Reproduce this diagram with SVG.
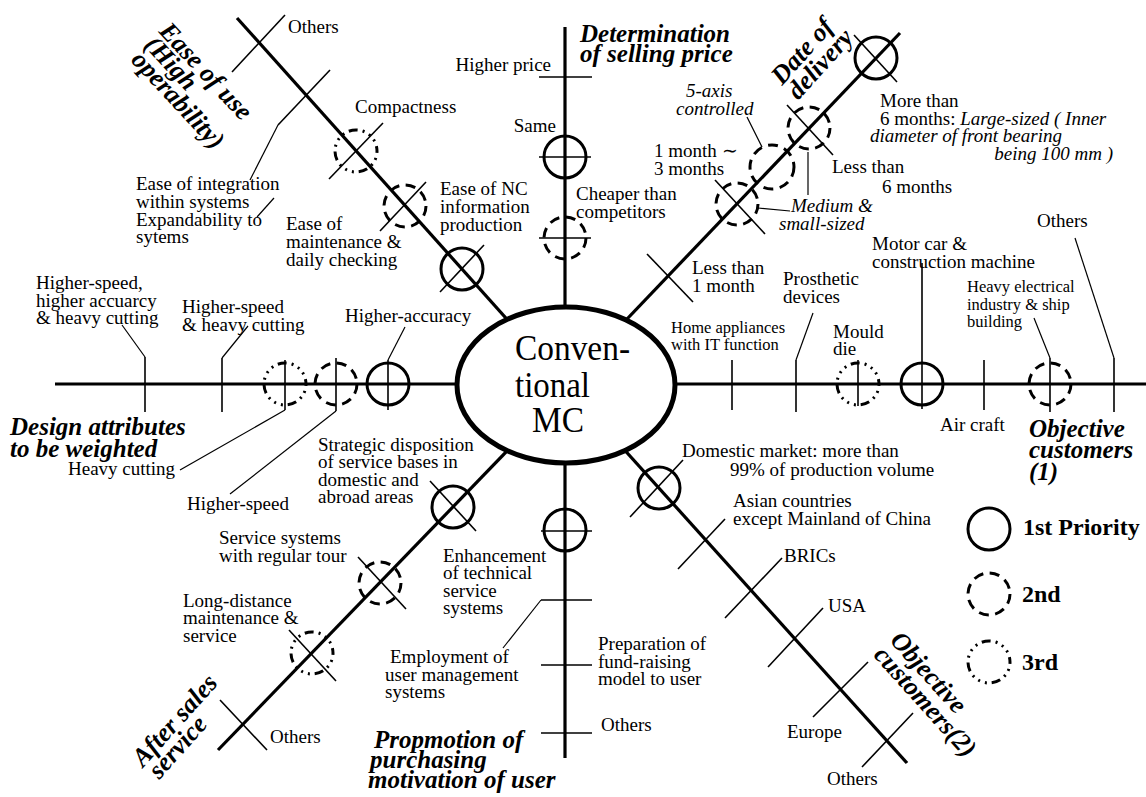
<svg xmlns="http://www.w3.org/2000/svg" width="1146" height="797" viewBox="0 0 1146 797">
<style>
text{font-family:"Liberation Serif","Times New Roman",serif;fill:#000}
.t{font-size:19px}
.s{font-size:16.5px}
.i{font-style:italic}
.c{font-size:25px;font-weight:bold;font-style:italic}
.r{font-size:26px;font-weight:bold;font-style:italic}
.lg{font-size:24px;font-weight:bold}
.ax{stroke:#000;stroke-width:3.2;fill:none}
.tk{stroke:#000;stroke-width:1.6;fill:none}
.ld{stroke:#000;stroke-width:1.2;fill:none}
.p1{stroke:#000;stroke-width:3;fill:none}
.p2{stroke:#000;stroke-width:3;fill:none;stroke-dasharray:10 6.5}
.p3{stroke:#000;stroke-width:3;fill:none;stroke-dasharray:2 5 2 5 2 5 9 5}
</style>
<rect width="1146" height="797" fill="#fff"/>
<g id="connectors">
<line class="ax" x1="237" y1="18" x2="565" y2="384"/>
<line class="ax" x1="565" y1="27" x2="565" y2="384"/>
<line class="ax" x1="900" y1="33" x2="565" y2="384"/>
<line class="ax" x1="1146" y1="384" x2="565" y2="384"/>
<line class="ax" x1="55" y1="384" x2="565" y2="384"/>
<line class="ax" x1="218" y1="750" x2="565" y2="391"/>
<line class="ax" x1="565" y1="758" x2="565" y2="384"/>
<line class="ax" x1="907" y1="763" x2="565" y2="384"/>
</g>
<g id="center-node">
<ellipse cx="566" cy="385" rx="109" ry="78" fill="#fff" stroke="#000" stroke-width="5"/>
<text x="515" y="360" font-size="36" textLength="115" lengthAdjust="spacingAndGlyphs">Conven-</text>
<text x="515" y="397" font-size="36" textLength="75" lengthAdjust="spacingAndGlyphs">tional</text>
<text x="532" y="432" font-size="36" textLength="52" lengthAdjust="spacingAndGlyphs">MC</text>
</g>
<g id="ease-of-use">
<line class="tk" x1="232" y1="72" x2="285" y2="15"/>
<line class="tk" x1="330" y1="70" x2="278" y2="125"/>
<line class="ld" x1="278" y1="125" x2="250" y2="180"/>
<line class="ld" x1="257" y1="217" x2="274" y2="198"/>
<circle class="p3" cx="356" cy="151" r="21"/>
<line class="tk" x1="329" y1="179" x2="383" y2="123"/>
<circle class="p2" cx="405" cy="206" r="21"/>
<line class="tk" x1="380" y1="231" x2="426" y2="182"/>
<circle class="p1" cx="462" cy="269" r="21"/>
<line class="tk" x1="440" y1="292" x2="484" y2="245"/>
<text class="t" x="288" y="33">Others</text>
<text class="t"><tspan x="136" y="190">Ease of integration</tspan><tspan x="136" y="208">within systems</tspan><tspan x="136" y="226">Expandability to</tspan><tspan x="136" y="243">sytems</tspan></text>
<text class="t" x="355" y="113">Compactness</text>
<text class="t"><tspan x="440" y="195">Ease of NC</tspan><tspan x="440" y="213">information</tspan><tspan x="440" y="231">production</tspan></text>
<text class="t"><tspan x="286" y="230">Ease of</tspan><tspan x="286" y="248">maintenance &amp;</tspan><tspan x="286" y="266">daily checking</tspan></text>
<g transform="translate(158,32) rotate(47)"><text class="r"><tspan x="0" y="0">Ease of use</tspan><tspan x="0" y="20">(High</tspan><tspan x="2" y="40">operability)</tspan></text></g>
</g>
<g id="selling-price">
<line class="tk" x1="539" y1="77" x2="592" y2="77"/>
<circle class="p1" cx="565" cy="157" r="21"/>
<line class="tk" x1="539" y1="157" x2="591" y2="157"/>
<circle class="p2" cx="565" cy="238" r="21"/>
<line class="tk" x1="539" y1="238" x2="591" y2="238"/>
<text class="t" x="551" y="71" text-anchor="end">Higher price</text>
<text class="t" x="556" y="132" text-anchor="end">Same</text>
<text class="t"><tspan x="576" y="200">Cheaper than</tspan><tspan x="576" y="218">competitors</tspan></text>
<text class="c"><tspan x="580" y="42">Determination</tspan><tspan x="580" y="62">of selling price</tspan></text>
</g>
<g id="date-of-delivery">
<circle class="p1" cx="876" cy="58" r="21"/>
<line class="tk" x1="854" y1="35" x2="897" y2="82"/>
<circle class="p2" cx="809" cy="128" r="21"/>
<line class="tk" x1="787" y1="105" x2="833" y2="155"/>
<circle class="p2" cx="772" cy="167" r="22"/>
<circle class="p2" cx="737" cy="204" r="21"/>
<line class="tk" x1="715" y1="180" x2="765" y2="234"/>
<line class="tk" x1="647" y1="254" x2="693" y2="302"/>
<line class="ld" x1="747" y1="117" x2="762" y2="147"/>
<line class="ld" x1="758" y1="208" x2="790" y2="211"/>
<line class="ld" x1="808" y1="152" x2="808" y2="195"/>
<text class="t i"><tspan x="686" y="97">5-axis</tspan><tspan x="676" y="115">controlled</tspan></text>
<text class="t"><tspan x="654" y="157">1 month ∼</tspan><tspan x="654" y="175">3 months</tspan></text>
<text class="t"><tspan x="692" y="274">Less than</tspan><tspan x="692" y="292">1 month</tspan></text>
<text class="t i"><tspan x="791" y="212">Medium &amp;</tspan><tspan x="779" y="230">small-sized</tspan></text>
<text class="t"><tspan x="832" y="173">Less than</tspan><tspan x="882" y="193">6 months</tspan></text>
<text class="t"><tspan x="880" y="107">More than</tspan><tspan x="880" y="125">6 months: <tspan class="i">Large-sized ( Inner</tspan></tspan></text>
<text class="t i"><tspan x="870" y="142">diameter of front bearing</tspan><tspan x="1113" y="160" text-anchor="end">being 100 mm )</tspan></text>
<g transform="translate(782,86) rotate(-48)"><text class="r"><tspan x="0" y="0">Date of</tspan><tspan x="0" y="22">delivery</tspan></text></g>
</g>
<g id="objective-customers-1">
<line class="tk" x1="732" y1="360" x2="732" y2="410"/>
<line class="tk" x1="796" y1="360" x2="796" y2="412"/>
<line class="ld" x1="796" y1="360" x2="813" y2="313"/>
<circle class="p3" cx="858" cy="384" r="21"/>
<line class="tk" x1="858" y1="360" x2="858" y2="406"/>
<circle class="p1" cx="922" cy="384" r="21"/>
<line class="tk" x1="922" y1="263" x2="922" y2="409"/>
<line class="tk" x1="984" y1="360" x2="984" y2="410"/>
<circle class="p2" cx="1050" cy="384" r="21"/>
<line class="tk" x1="1050" y1="358" x2="1050" y2="412"/>
<line class="ld" x1="1050" y1="358" x2="1034" y2="318"/>
<line class="tk" x1="1114" y1="358" x2="1114" y2="412"/>
<line class="ld" x1="1114" y1="358" x2="1075" y2="238"/>
<text class="s"><tspan x="671" y="333">Home appliances</tspan><tspan x="671" y="350">with IT function</tspan></text>
<text class="t"><tspan x="783" y="285">Prosthetic</tspan><tspan x="783" y="303">devices</tspan></text>
<text class="t"><tspan x="833" y="338">Mould</tspan><tspan x="833" y="355">die</tspan></text>
<text class="t"><tspan x="872" y="250">Motor car &amp;</tspan><tspan x="872" y="268">construction machine</tspan></text>
<text class="s"><tspan x="967" y="292">Heavy electrical</tspan><tspan x="967" y="310">industry &amp; ship</tspan><tspan x="967" y="327">building</tspan></text>
<text class="t" x="1037" y="227">Others</text>
<text class="t" x="940" y="431">Air craft</text>
<text class="c"><tspan x="1029" y="437">Objective</tspan><tspan x="1029" y="458">customers</tspan><tspan x="1029" y="480">(1)</tspan></text>
</g>
<g id="design-attributes">
<line class="tk" x1="145" y1="357" x2="145" y2="412"/>
<line class="ld" x1="145" y1="357" x2="122" y2="325"/>
<line class="tk" x1="222" y1="358" x2="222" y2="412"/>
<line class="ld" x1="222" y1="358" x2="248" y2="326"/>
<circle class="p3" cx="285" cy="384" r="21"/>
<line class="tk" x1="285" y1="360" x2="285" y2="410"/>
<line class="ld" x1="285" y1="410" x2="180" y2="470"/>
<circle class="p2" cx="336" cy="384" r="21"/>
<line class="tk" x1="336" y1="358" x2="336" y2="411"/>
<line class="ld" x1="336" y1="411" x2="230" y2="494"/>
<circle class="p1" cx="388" cy="384" r="21"/>
<line class="tk" x1="388" y1="360" x2="388" y2="410"/>
<line class="ld" x1="388" y1="360" x2="405" y2="327"/>
<text class="t"><tspan x="36" y="289">Higher-speed,</tspan><tspan x="36" y="307">higher accuarcy</tspan><tspan x="36" y="324">&amp; heavy cutting</tspan></text>
<text class="t"><tspan x="182" y="313">Higher-speed</tspan><tspan x="182" y="331">&amp; heavy cutting</tspan></text>
<text class="t" x="345" y="322">Higher-accuracy</text>
<text class="t" x="68" y="475">Heavy cutting</text>
<text class="t" x="187" y="510">Higher-speed</text>
<text class="c"><tspan x="10" y="435">Design attributes</tspan><tspan x="10" y="457">to be weighted</tspan></text>
</g>
<g id="after-sales-service">
<circle class="p1" cx="453" cy="507" r="21"/>
<line class="tk" x1="430" y1="481" x2="476" y2="531"/>
<circle class="p2" cx="380" cy="583" r="21"/>
<line class="tk" x1="358" y1="557" x2="406" y2="609"/>
<circle class="p3" cx="312" cy="653" r="21"/>
<line class="tk" x1="289" y1="630" x2="336" y2="681"/>
<line class="tk" x1="220" y1="700" x2="267" y2="750"/>
<text class="t"><tspan x="318" y="451">Strategic disposition</tspan><tspan x="318" y="468">of service bases in</tspan><tspan x="318" y="486">domestic and</tspan><tspan x="318" y="503">abroad areas</tspan></text>
<text class="t"><tspan x="219" y="544">Service systems</tspan><tspan x="219" y="562">with regular tour</tspan></text>
<text class="t"><tspan x="183" y="607">Long-distance</tspan><tspan x="183" y="624">maintenance &amp;</tspan><tspan x="183" y="642">service</tspan></text>
<text class="t" x="270" y="743">Others</text>
<g transform="translate(143,768) rotate(-48)"><text class="r"><tspan x="0" y="0">After sales</tspan><tspan x="2" y="20">service</tspan></text></g>
</g>
<g id="purchasing-motivation">
<circle class="p1" cx="565" cy="530" r="21"/>
<line class="tk" x1="541" y1="531" x2="592" y2="531"/>
<line class="tk" x1="541" y1="600" x2="592" y2="600"/>
<line class="ld" x1="541" y1="600" x2="503" y2="648"/>
<line class="tk" x1="541" y1="665" x2="592" y2="665"/>
<line class="tk" x1="541" y1="733" x2="592" y2="733"/>
<text class="t"><tspan x="443" y="562">Enhancement</tspan><tspan x="443" y="579">of technical</tspan><tspan x="443" y="597">service</tspan><tspan x="443" y="614">systems</tspan></text>
<text class="t"><tspan x="390" y="663">Employment of</tspan><tspan x="385" y="681">user management</tspan><tspan x="385" y="698">systems</tspan></text>
<text class="t"><tspan x="598" y="650">Preparation of</tspan><tspan x="598" y="668">fund-raising</tspan><tspan x="598" y="685">model to user</tspan></text>
<text class="t" x="601" y="731">Others</text>
<text class="c"><tspan x="374" y="748">Propmotion of</tspan><tspan x="370" y="768">purchasing</tspan><tspan x="368" y="788">motivation of user</tspan></text>
</g>
<g id="objective-customers-2">
<circle class="p1" cx="659" cy="488" r="21"/>
<line class="tk" x1="630" y1="517" x2="683" y2="460"/>
<line class="tk" x1="678" y1="569" x2="725" y2="519"/>
<line class="tk" x1="725" y1="618" x2="782" y2="558"/>
<line class="tk" x1="768" y1="667" x2="823" y2="608"/>
<line class="tk" x1="813" y1="717" x2="868" y2="662"/>
<line class="tk" x1="862" y1="767" x2="913" y2="713"/>
<text class="t"><tspan x="682" y="457">Domestic market: more than</tspan><tspan x="730" y="476">99% of production volume</tspan></text>
<text class="t"><tspan x="733" y="507">Asian countries</tspan><tspan x="733" y="525">except Mainland of China</tspan></text>
<text class="t" x="784" y="562">BRICs</text>
<text class="t" x="828" y="612">USA</text>
<text class="t" x="787" y="738">Europe</text>
<text class="t" x="827" y="785">Others</text>
<g transform="translate(889,641) rotate(48)"><text class="r"><tspan x="0" y="0">Objective</tspan><tspan x="0" y="22">customers(2)</tspan></text></g>
</g>
<g id="legend">
<circle class="p1" cx="989" cy="529" r="21"/>
<text class="lg" x="1023" y="535">1st Priority</text>
<circle class="p2" cx="989" cy="594" r="21"/>
<text class="lg" x="1022" y="602">2nd</text>
<circle class="p3" cx="989" cy="662" r="21"/>
<text class="lg" x="1022" y="670">3rd</text>
</g>
</svg>
